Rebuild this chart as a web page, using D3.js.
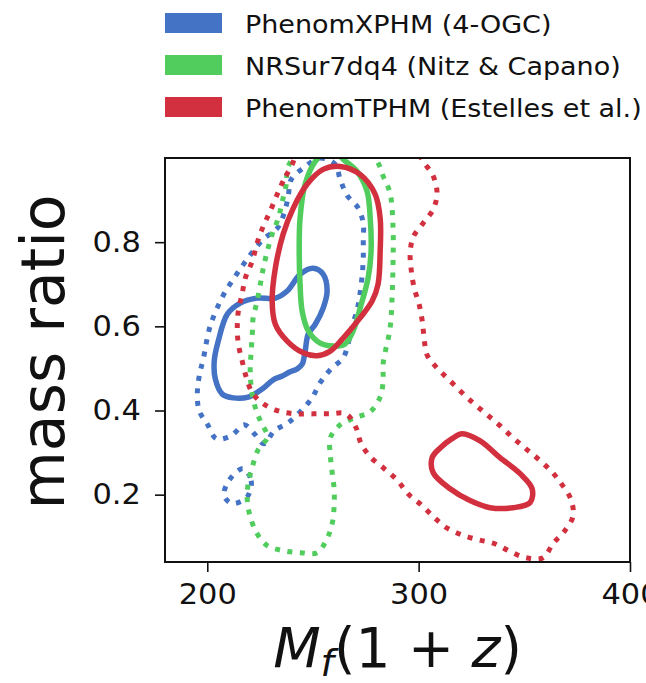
<!DOCTYPE html>
<html>
<head>
<meta charset="utf-8">
<script src="https://cdn.jsdelivr.net/npm/d3@7"></script>
<style>
  body { margin: 0; background: #fff; }
  text { font-family: "DejaVu Sans", sans-serif; fill: #111; }
</style>
</head>
<body>
<svg id="chart" width="646" height="683"></svg>
<script>
var labels = ['PhenomXPHM (4-OGC)', 'NRSur7dq4 (Nitz & Capano)', 'PhenomTPHM (Estelles et al.)'];
var colors = ['#4472c4', '#50cd5c', '#d3303f'];
var xTicks = [200, 300, 400];
var yTicks = [0.2, 0.4, 0.6, 0.8];

// contour points: [M_f(1+z), mass ratio]
var phenomX50 = [[203.3,0.518],[205.2,0.565],[209.5,0.629],[215.6,0.655],[223.6,0.667],[232.2,0.667],[237.8,0.684],[244.0,0.724],[250.1,0.738],[254.8,0.724],[256.7,0.684],[254.8,0.643],[251.1,0.605],[247.8,0.582],[246.3,0.541],[244.9,0.510],[242.6,0.499],[239.2,0.492],[235.5,0.482],[231.2,0.473],[226.0,0.451],[219.4,0.432],[212.3,0.430],[207.1,0.439],[203.8,0.475]];
var phenomX90 = [[245.4,0.976],[253.4,1.0],[260.5,0.985],[262.9,0.949],[266.2,0.911],[271.4,0.881],[273.8,0.845],[273.8,0.805],[273.8,0.762],[273.3,0.722],[272.3,0.679],[270.9,0.639],[268.6,0.601],[266.7,0.560],[264.3,0.525],[258.6,0.499],[253.4,0.466],[249.6,0.430],[244.9,0.402],[238.3,0.371],[231.7,0.352],[226.9,0.321],[222.2,0.345],[217.5,0.366],[211.3,0.340],[204.3,0.333],[200.0,0.368],[196.2,0.399],[195.3,0.439],[196.2,0.482],[198.1,0.522],[201.4,0.601],[207.6,0.674],[212.3,0.712],[216.5,0.743],[221.3,0.776],[226.5,0.807],[233.1,0.833],[236.4,0.869],[238.3,0.909],[239.7,0.949]];
var phenomX90b = [[217.0,0.262],[220.8,0.233],[218.9,0.195],[211.8,0.179],[208.0,0.198],[210.4,0.235]];
var nrsur50 = [[251.1,0.992],[246.3,0.938],[243.9,0.857],[243.5,0.779],[243.9,0.700],[244.9,0.636],[247.8,0.589],[253.4,0.560],[259.6,0.553],[265.2,0.558],[269.0,0.589],[272.3,0.643],[276.1,0.715],[277.5,0.779],[277.1,0.857],[275.6,0.921],[270.9,0.968],[264.3,0.997],[258.5,1.025]];
var nrsur90 = [[238.3,0.980],[237.4,0.938],[235.5,0.897],[233.6,0.857],[230.7,0.819],[228.4,0.779],[226.5,0.738],[225.1,0.700],[223.6,0.660],[221.7,0.620],[221.3,0.582],[220.8,0.541],[220.3,0.501],[220.8,0.456],[222.2,0.416],[225.1,0.375],[228.4,0.337],[224.1,0.307],[221.3,0.266],[219.4,0.228],[218.9,0.188],[220.3,0.148],[223.6,0.107],[228.4,0.079],[235.9,0.067],[244.4,0.062],[252.0,0.062],[256.7,0.096],[259.1,0.131],[260.0,0.171],[260.0,0.214],[259.1,0.252],[258.2,0.295],[258.2,0.335],[262.9,0.366],[270.0,0.383],[277.1,0.397],[281.8,0.432],[283.2,0.470],[283.2,0.511],[286.5,0.596],[287.5,0.677],[287.9,0.755],[287.9,0.833],[286.5,0.916],[283.2,0.957],[280.4,0.992],[272.3,1.04],[248.7,1.04]];
var phenomT50 = [[262.9,0.980],[272.3,0.961],[279.4,0.914],[281.8,0.857],[281.8,0.779],[280.8,0.700],[278.0,0.660],[272.3,0.620],[264.3,0.572],[258.2,0.541],[252.0,0.530],[245.4,0.537],[237.8,0.565],[232.2,0.605],[230.7,0.660],[232.2,0.738],[235.9,0.819],[240.7,0.881],[247.3,0.938],[254.8,0.973]];
var phenomT50b = [[320.6,0.345],[329.1,0.328],[338.5,0.288],[348.0,0.250],[353.7,0.214],[352.7,0.181],[344.7,0.169],[333.8,0.169],[324.3,0.186],[314.9,0.214],[306.9,0.252],[306.4,0.288],[310.2,0.311],[315.8,0.333]];
var phenomT90 = [[240.2,0.985],[235.9,0.945],[233.1,0.914],[229.8,0.874],[226.5,0.838],[223.6,0.798],[221.3,0.755],[218.0,0.715],[216.5,0.677],[214.7,0.636],[214.2,0.596],[214.7,0.558],[216.5,0.518],[218.4,0.480],[221.3,0.442],[226.5,0.416],[233.6,0.399],[241.6,0.392],[250.1,0.392],[257.7,0.392],[265.7,0.392],[270.4,0.359],[272.8,0.321],[277.5,0.288],[283.7,0.262],[289.8,0.235],[295.0,0.202],[301.2,0.176],[306.9,0.148],[313.0,0.122],[320.1,0.105],[328.1,0.093],[335.7,0.084],[343.3,0.065],[350.8,0.050],[358.9,0.050],[363.6,0.084],[368.8,0.112],[373.0,0.148],[372.1,0.188],[367.8,0.224],[363.1,0.254],[357.0,0.283],[350.8,0.309],[344.7,0.335],[338.5,0.364],[332.4,0.390],[326.2,0.416],[320.6,0.442],[314.4,0.473],[308.7,0.501],[304.0,0.532],[302.6,0.572],[301.7,0.613],[300.2,0.653],[297.9,0.691],[296.5,0.734],[296.0,0.772],[297.4,0.812],[302.1,0.845],[306.9,0.878],[308.7,0.916],[306.9,0.957],[302.1,0.992],[296.0,1.04],[262.9,1.05],[244.0,1.03]];

var contours = [
  { pts: phenomX90, s: 0, dotted: true },
  { pts: phenomX90b, s: 0, dotted: true },
  { pts: phenomX50, s: 0, dotted: false },
  { pts: nrsur90, s: 1, dotted: true },
  { pts: nrsur50, s: 1, dotted: false },
  { pts: phenomT90, s: 2, dotted: true },
  { pts: phenomT50, s: 2, dotted: false },
  { pts: phenomT50b, s: 2, dotted: false }
];

var svg = d3.select('#chart');
var plotL = 165, plotR = 630, plotT = 158, plotB = 562;

var x = d3.scaleLinear().domain([180, 400]).range([plotL, plotR]);
var y = d3.scaleLinear().domain([0.04, 1.0]).range([plotB, plotT]);

svg.append('clipPath').attr('id', 'clip')
  .append('rect').attr('x', plotL).attr('y', plotT)
  .attr('width', plotR - plotL).attr('height', plotB - plotT);

var line = d3.line()
  .x(function (d) { return x(d[0]); })
  .y(function (d) { return y(d[1]); })
  .curve(d3.curveCatmullRomClosed.alpha(0.5));

var plot = svg.append('g').attr('clip-path', 'url(#clip)');
plot.selectAll('path')
  .data(contours)
  .enter().append('path')
  .attr('d', function (d) { return line(d.pts); })
  .attr('fill', 'none')
  .attr('stroke', function (d) { return colors[d.s]; })
  .attr('stroke-width', function (d) { return d.dotted ? 5 : 5.5; })
  .attr('stroke-dasharray', function (d) { return d.dotted ? '5 7.5' : null; })
  .attr('stroke-linejoin', 'round');

// frame
svg.append('rect')
  .attr('x', plotL).attr('y', plotT)
  .attr('width', plotR - plotL).attr('height', plotB - plotT)
  .attr('fill', 'none').attr('stroke', '#111').attr('stroke-width', 2);

// axes
var xAxis = svg.append('g')
  .attr('transform', 'translate(0,' + plotB + ')')
  .call(d3.axisBottom(x).tickValues(xTicks).tickSize(10).tickPadding(11).tickFormat(d3.format('d')));
var yAxis = svg.append('g')
  .attr('transform', 'translate(' + plotL + ',0)')
  .call(d3.axisLeft(y).tickValues(yTicks).tickSize(10).tickPadding(13).tickFormat(d3.format('.1f')));

[xAxis, yAxis].forEach(function (ax) {
  ax.select('.domain').remove();
  ax.selectAll('line').attr('stroke', '#111').attr('stroke-width', 1.6);
  ax.selectAll('text')
    .attr('font-family', 'DejaVu Sans')
    .attr('font-size', 29)
    .attr('fill', '#111')
    .attr('transform', 'scale(1.05,1)');
});

// axis labels
svg.append('text')
  .attr('transform', 'translate(64,352) rotate(-90)')
  .attr('text-anchor', 'middle')
  .attr('font-size', 60)
  .text('mass ratio');

var xl = svg.append('text')
  .attr('x', (plotL + plotR) / 2)
  .attr('y', 667)
  .attr('text-anchor', 'middle')
  .attr('font-size', 55);
xl.append('tspan').attr('font-style', 'italic').text('M');
xl.append('tspan').attr('font-style', 'italic').attr('font-size', 38).attr('dy', 9).text('f');
xl.append('tspan').attr('dy', -9).text('(1 + ');
xl.append('tspan').attr('font-style', 'italic').text('z');
xl.append('tspan').text(')');

// legend
var legend = svg.append('g');
labels.forEach(function (name, i) {
  var row = legend.append('g').attr('transform', 'translate(0,' + (i * 42) + ')');
  row.append('rect')
    .attr('x', 165).attr('y', 13)
    .attr('width', 57).attr('height', 20)
    .attr('fill', colors[i]);
  row.append('text')
    .attr('transform', 'translate(245,33) scale(1.08,1)')
    .attr('font-size', 25)
    .text(name);
});
</script>
</body>
</html>
